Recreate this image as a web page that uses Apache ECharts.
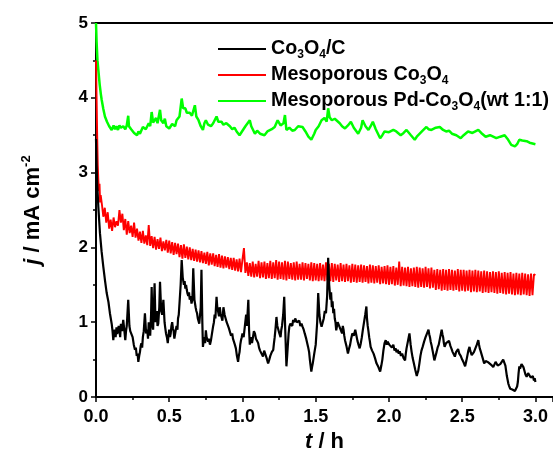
<!DOCTYPE html>
<html>
<head>
<meta charset="utf-8">
<script src="https://cdn.jsdelivr.net/npm/echarts@6/dist/echarts.min.js"></script>
<style>
  html, body { margin: 0; padding: 0; background: #fff; }
  #chart { width: 553px; height: 454px; }
</style>
</head>
<body>
<div id="chart"></div>
<script>
// legend names
const seriesNames = ['Co3O4/C', 'Mesoporous Co3O4', 'Mesoporous Pd-Co3O4(wt 1:1)']

// Co3O4/C  [t (h), j (mA cm-2)]
const co3o4C = [
  [0,3.45],[0.004,3.1],[0.008,2.85],[0.012,2.7],[0.016,2.54],[0.022,2.35],[0.027,2.19],[0.038,1.95],
  [0.05,1.74],[0.062,1.55],[0.073,1.39],[0.085,1.27],[0.095,1.12],[0.107,0.98],[0.113,0.88],[0.118,0.76],
  [0.123,0.86],[0.128,0.9],[0.134,0.8],[0.14,0.93],[0.145,0.84],[0.15,0.82],[0.155,0.95],[0.16,0.9],
  [0.165,0.8],[0.17,0.98],[0.178,0.88],[0.186,1.03],[0.193,0.9],[0.2,0.76],[0.205,0.88],[0.21,0.95],
  [0.22,1.3],[0.228,0.95],[0.234,0.88],[0.24,0.85],[0.25,0.8],[0.258,0.7],[0.266,0.63],[0.272,0.66],
  [0.278,0.55],[0.284,0.58],[0.289,0.47],[0.295,0.55],[0.3,0.6],[0.305,0.68],[0.31,0.72],[0.315,0.66],
  [0.32,0.8],[0.326,0.88],[0.334,1.12],[0.342,0.85],[0.35,0.9],[0.355,0.78],[0.36,1.0],[0.365,0.9],
  [0.37,0.82],[0.376,1.1],[0.38,1.47],[0.386,0.95],[0.39,0.9],[0.395,1.2],[0.4,1.52],[0.406,1.0],
  [0.41,1.08],[0.415,1.15],[0.42,0.95],[0.425,0.98],[0.432,1.2],[0.437,1.54],[0.445,1.15],[0.452,1.1],
  [0.46,1.3],[0.468,1.0],[0.473,0.92],[0.478,0.85],[0.484,0.8],[0.49,0.72],[0.495,0.82],[0.5,0.9],
  [0.505,0.8],[0.51,0.85],[0.515,0.95],[0.52,1.0],[0.525,0.92],[0.53,0.88],[0.535,0.78],[0.54,0.8],
  [0.545,0.9],[0.55,0.95],[0.556,0.9],[0.56,1.05],[0.565,1.1],[0.57,1.25],[0.578,1.5],[0.585,1.83],
  [0.592,1.6],[0.6,1.5],[0.605,1.55],[0.61,1.45],[0.615,1.5],[0.62,1.43],[0.625,1.38],[0.63,1.35],
  [0.635,1.4],[0.64,1.3],[0.646,1.35],[0.652,1.25],[0.658,1.3],[0.664,1.72],[0.672,1.3],[0.676,1.25],
  [0.68,1.2],[0.685,1.15],[0.69,1.12],[0.695,1.05],[0.7,1.07],[0.705,0.98],[0.71,1.0],[0.715,1.2],
  [0.72,1.7],[0.726,1.0],[0.73,0.67],[0.735,0.75],[0.74,0.8],[0.745,0.72],[0.75,0.89],[0.755,0.8],
  [0.76,0.82],[0.765,0.74],[0.77,0.78],[0.778,0.7],[0.785,0.76],[0.792,0.85],[0.8,0.95],[0.805,1.0],
  [0.81,1.1],[0.815,1.05],[0.823,1.34],[0.828,1.2],[0.833,1.15],[0.84,1.08],[0.845,1.2],[0.85,1.12],
  [0.857,1.1],[0.863,1.02],[0.87,1.2],[0.878,1.1],[0.885,1.05],[0.892,1.0],[0.9,0.98],[0.907,0.92],
  [0.915,0.9],[0.922,0.82],[0.93,0.85],[0.935,0.78],[0.94,0.8],[0.948,0.7],[0.955,0.65],[0.962,0.55],
  [0.97,0.47],[0.975,0.55],[0.98,0.6],[0.985,0.7],[0.99,0.76],[0.995,0.8],[1.0,0.85],[1.008,0.8],
  [1.016,0.94],[1.025,1.1],[1.03,0.95],[1.04,1.3],[1.045,0.9],[1.05,0.7],[1.055,0.75],[1.06,0.8],
  [1.065,0.72],[1.07,0.78],[1.078,0.88],[1.085,0.85],[1.092,0.78],[1.1,0.75],[1.107,0.72],[1.113,0.66],
  [1.12,0.62],[1.13,0.58],[1.14,0.54],[1.148,0.62],[1.155,0.6],[1.165,0.52],[1.175,0.45],[1.183,0.5],
  [1.19,0.55],[1.2,0.6],[1.21,0.63],[1.215,0.72],[1.22,0.8],[1.226,0.92],[1.232,1.07],[1.238,0.95],
  [1.245,0.9],[1.252,0.85],[1.26,0.8],[1.265,0.9],[1.27,0.95],[1.278,1.1],[1.285,1.34],[1.292,0.9],
  [1.3,0.41],[1.305,0.55],[1.31,0.7],[1.315,0.85],[1.32,0.94],[1.327,0.98],[1.335,1.0],[1.34,0.95],
  [1.346,1.03],[1.353,1.0],[1.36,1.05],[1.37,1.0],[1.38,0.98],[1.388,1.02],[1.395,0.95],[1.403,0.98],
  [1.41,0.94],[1.418,0.9],[1.425,0.85],[1.435,0.78],[1.448,0.67],[1.455,0.6],[1.46,0.5],[1.465,0.42],
  [1.47,0.34],[1.475,0.4],[1.48,0.45],[1.49,0.58],[1.5,0.7],[1.505,0.85],[1.51,1.0],[1.517,1.39],
  [1.525,1.1],[1.532,1.0],[1.54,0.94],[1.548,1.0],[1.555,1.05],[1.562,1.15],[1.57,1.12],[1.578,1.35],
  [1.585,1.86],[1.592,1.5],[1.6,1.3],[1.605,1.4],[1.61,1.2],[1.615,1.28],[1.62,1.12],[1.625,1.18],
  [1.63,1.05],[1.635,1.0],[1.64,0.89],[1.65,1.0],[1.66,0.95],[1.67,0.9],[1.68,0.85],[1.685,0.95],
  [1.69,0.9],[1.695,0.82],[1.7,0.76],[1.71,0.68],[1.72,0.58],[1.728,0.65],[1.735,0.7],[1.742,0.78],
  [1.75,0.85],[1.76,0.82],[1.77,0.9],[1.778,0.82],[1.785,0.75],[1.792,0.7],[1.8,0.65],[1.808,0.72],
  [1.815,0.8],[1.822,0.9],[1.83,1.0],[1.838,1.1],[1.846,1.21],[1.85,1.05],[1.855,0.95],[1.86,0.88],
  [1.865,0.8],[1.87,0.74],[1.875,0.67],[1.885,0.62],[1.895,0.58],[1.905,0.52],[1.915,0.45],[1.928,0.4],
  [1.94,0.34],[1.948,0.42],[1.955,0.5],[1.962,0.62],[1.97,0.72],[1.978,0.76],[1.985,0.7],[1.99,0.74],
  [1.995,0.76],[2.002,0.7],[2.01,0.72],[2.02,0.66],[2.03,0.7],[2.038,0.62],[2.045,0.65],[2.052,0.6],
  [2.06,0.63],[2.067,0.58],[2.074,0.61],[2.082,0.55],[2.09,0.58],[2.1,0.52],[2.11,0.49],[2.115,0.58],
  [2.12,0.65],[2.13,0.75],[2.14,0.85],[2.148,0.7],[2.155,0.6],[2.162,0.52],[2.17,0.45],[2.18,0.36],
  [2.19,0.28],[2.195,0.32],[2.2,0.35],[2.208,0.45],[2.215,0.55],[2.222,0.62],[2.23,0.67],[2.24,0.74],
  [2.25,0.8],[2.26,0.85],[2.27,0.9],[2.275,0.84],[2.28,0.8],[2.285,0.74],[2.29,0.7],[2.3,0.6],
  [2.31,0.49],[2.318,0.55],[2.325,0.6],[2.332,0.66],[2.34,0.7],[2.35,0.8],[2.36,0.9],[2.365,0.84],
  [2.37,0.8],[2.375,0.72],[2.38,0.67],[2.39,0.72],[2.4,0.7],[2.41,0.75],[2.42,0.68],[2.428,0.64],
  [2.435,0.6],[2.442,0.58],[2.45,0.54],[2.458,0.6],[2.465,0.6],[2.472,0.64],[2.48,0.58],[2.49,0.55],
  [2.5,0.5],[2.51,0.46],[2.52,0.41],[2.528,0.48],[2.535,0.55],[2.542,0.62],[2.55,0.67],[2.555,0.62],
  [2.56,0.6],[2.565,0.56],[2.57,0.55],[2.58,0.6],[2.59,0.65],[2.6,0.7],[2.61,0.76],[2.615,0.7],
  [2.62,0.65],[2.625,0.62],[2.63,0.6],[2.64,0.52],[2.65,0.45],[2.66,0.48],[2.67,0.5],[2.68,0.46],
  [2.69,0.48],[2.698,0.43],[2.705,0.45],[2.712,0.4],[2.72,0.41],[2.728,0.47],[2.735,0.45],[2.742,0.42],
  [2.75,0.41],[2.76,0.44],[2.77,0.45],[2.78,0.5],[2.79,0.49],[2.795,0.42],[2.8,0.35],[2.805,0.28],
  [2.81,0.23],[2.815,0.18],[2.82,0.15],[2.828,0.11],[2.835,0.09],[2.842,0.1],[2.85,0.12],[2.86,0.08],
  [2.87,0.09],[2.875,0.14],[2.88,0.2],[2.885,0.32],[2.89,0.41],[2.895,0.38],[2.9,0.4],[2.905,0.44],
  [2.91,0.45],[2.918,0.4],[2.925,0.35],[2.932,0.3],[2.94,0.27],[2.95,0.32],[2.96,0.3],[2.968,0.26],
  [2.975,0.25],[2.982,0.28],[2.99,0.22],[2.995,0.25],[3.0,0.2]
]

// Mesoporous Co3O4: noisy band, read as the swings between its upper and lower edge
const mesoCo3O4 = [
  [0,4.5],[0.004,4.0],[0.008,3.5],[0.012,3.1],[0.016,2.9],[0.02,2.75],[0.024,2.85],[0.028,2.6],[0.032,2.7],
  [0.04,2.58],[0.05,2.41],[0.06,2.53],[0.07,2.33],[0.08,2.47],[0.09,2.25],
  [0.10,2.37],[0.11,2.22],[0.12,2.40],[0.13,2.27],[0.14,2.35],[0.15,2.29],[0.16,2.50],[0.17,2.33],[0.18,2.45],[0.19,2.23],
  [0.20,2.38],[0.21,2.17],[0.22,2.35],[0.23,2.19],[0.24,2.29],[0.25,2.14],[0.26,2.33],[0.27,2.13],[0.28,2.25],[0.29,2.09],
  [0.30,2.21],[0.31,2.06],[0.32,2.22],[0.33,2.05],[0.34,2.16],[0.35,2.03],[0.36,2.30],[0.37,2.02],[0.38,2.15],[0.39,1.99],
  [0.40,2.14],[0.41,1.97],[0.42,2.11],[0.43,1.98],[0.44,2.13],[0.45,1.95],[0.46,2.08],[0.47,1.96],[0.48,2.10],[0.49,1.93],
  [0.50,2.09],[0.51,1.92],[0.52,2.07],[0.53,1.90],[0.54,2.06],[0.55,1.91],[0.56,2.05],[0.57,1.87],[0.58,2.03],[0.59,1.85],
  [0.60,2.04],[0.61,1.86],[0.62,2.01],[0.63,1.84],[0.64,2.00],[0.65,1.83],[0.66,1.98],[0.67,1.82],[0.68,1.97],[0.69,1.81],
  [0.70,1.96],[0.71,1.80],[0.72,1.95],[0.73,1.79],[0.74,1.93],[0.75,1.78],[0.76,1.94],[0.77,1.76],[0.78,1.92],[0.79,1.77],
  [0.80,1.92],[0.81,1.75],[0.82,1.90],[0.83,1.74],[0.84,1.91],[0.85,1.73],[0.86,1.89],[0.87,1.72],[0.88,1.88],[0.89,1.73],
  [0.90,1.87],[0.91,1.71],[0.92,1.86],[0.93,1.70],[0.94,1.86],[0.95,1.69],[0.96,1.84],[0.97,1.68],[0.98,1.85],[0.99,1.67],
  [1.00,1.84],[1.01,1.99],[1.02,1.66],[1.03,1.80],[1.04,1.62],[1.05,1.79],[1.06,1.61],[1.07,1.81],[1.08,1.60],[1.09,1.78],
  [1.10,1.61],[1.11,1.82],[1.12,1.59],[1.13,1.80],[1.14,1.60],[1.15,1.81],[1.16,1.58],[1.17,1.79],[1.18,1.59],[1.19,1.82],
  [1.20,1.58],[1.21,1.80],[1.22,1.59],[1.23,1.83],[1.24,1.57],[1.25,1.81],[1.26,1.58],[1.27,1.80],[1.28,1.57],[1.29,1.82],
  [1.30,1.56],[1.31,1.81],[1.32,1.58],[1.33,1.79],[1.34,1.57],[1.35,1.80],[1.36,1.56],[1.37,1.81],[1.38,1.57],[1.39,1.78],
  [1.40,1.57],[1.41,1.80],[1.42,1.56],[1.43,1.79],[1.44,1.58],[1.45,1.78],[1.46,1.56],[1.47,1.80],[1.48,1.55],[1.49,1.79],
  [1.50,1.56],[1.51,1.78],[1.52,1.55],[1.53,1.79],[1.54,1.56],[1.55,1.77],[1.56,1.55],[1.57,1.80],[1.58,1.56],[1.59,1.78],
  [1.60,1.55],[1.61,1.79],[1.62,1.54],[1.63,1.78],[1.64,1.56],[1.65,1.77],[1.66,1.54],[1.67,1.79],[1.68,1.55],[1.69,1.77],
  [1.70,1.54],[1.71,1.78],[1.72,1.55],[1.73,1.76],[1.74,1.53],[1.75,1.78],[1.76,1.54],[1.77,1.77],[1.78,1.53],[1.79,1.76],
  [1.80,1.54],[1.81,1.77],[1.82,1.53],[1.83,1.76],[1.84,1.54],[1.85,1.75],[1.86,1.52],[1.87,1.77],[1.88,1.53],[1.89,1.76],
  [1.90,1.52],[1.91,1.75],[1.92,1.53],[1.93,1.76],[1.94,1.51],[1.95,1.74],[1.96,1.52],[1.97,1.75],[1.98,1.51],[1.99,1.76],
  [2.00,1.50],[2.01,1.74],[2.02,1.51],[2.03,1.75],[2.04,1.49],[2.05,1.73],[2.06,1.50],[2.07,1.81],[2.08,1.48],[2.09,1.74],
  [2.10,1.49],[2.11,1.73],[2.12,1.48],[2.13,1.74],[2.14,1.47],[2.15,1.72],[2.16,1.48],[2.17,1.73],[2.18,1.47],[2.19,1.74],
  [2.20,1.46],[2.21,1.73],[2.22,1.47],[2.23,1.72],[2.24,1.46],[2.25,1.74],[2.26,1.47],[2.27,1.72],[2.28,1.45],[2.29,1.73],
  [2.30,1.46],[2.31,1.70],[2.32,1.43],[2.33,1.71],[2.34,1.44],[2.35,1.70],[2.36,1.42],[2.37,1.71],[2.38,1.43],[2.39,1.70],
  [2.40,1.42],[2.41,1.71],[2.42,1.43],[2.43,1.70],[2.44,1.42],[2.45,1.69],[2.46,1.43],[2.47,1.71],[2.48,1.41],[2.49,1.70],
  [2.50,1.42],[2.51,1.70],[2.52,1.41],[2.53,1.69],[2.54,1.42],[2.55,1.70],[2.56,1.40],[2.57,1.69],[2.58,1.41],[2.59,1.70],
  [2.60,1.40],[2.61,1.69],[2.62,1.41],[2.63,1.68],[2.64,1.39],[2.65,1.69],[2.66,1.40],[2.67,1.68],[2.68,1.39],[2.69,1.67],
  [2.70,1.40],[2.71,1.68],[2.72,1.39],[2.73,1.67],[2.74,1.38],[2.75,1.68],[2.76,1.39],[2.77,1.66],[2.78,1.38],[2.79,1.67],
  [2.80,1.37],[2.81,1.66],[2.82,1.38],[2.83,1.67],[2.84,1.37],[2.85,1.65],[2.86,1.36],[2.87,1.66],[2.88,1.37],[2.89,1.65],
  [2.90,1.36],[2.91,1.66],[2.92,1.37],[2.93,1.65],[2.94,1.36],[2.95,1.64],[2.96,1.35],[2.97,1.65],[2.98,1.36],[2.99,1.64],
  [3.00,1.63]
]

// Mesoporous Pd-Co3O4 (wt 1:1)
const mesoPdCo3O4 = [
  [0,5.0],[0.004,4.75],[0.01,4.5],[0.016,4.37],[0.025,4.18],[0.033,4.05],[0.039,3.97],[0.05,3.85],
  [0.061,3.75],[0.075,3.68],[0.09,3.62],[0.1,3.6],[0.107,3.57],[0.12,3.63],[0.13,3.58],[0.14,3.62],
  [0.15,3.57],[0.16,3.63],[0.17,3.6],[0.186,3.62],[0.2,3.58],[0.21,3.63],[0.22,3.76],[0.225,3.62],
  [0.24,3.58],[0.26,3.53],[0.28,3.5],[0.29,3.55],[0.3,3.52],[0.32,3.61],[0.34,3.58],[0.36,3.66],
  [0.37,3.62],[0.38,3.81],[0.39,3.67],[0.41,3.73],[0.42,3.66],[0.437,3.84],[0.445,3.7],[0.46,3.66],
  [0.47,3.72],[0.48,3.62],[0.5,3.59],[0.52,3.65],[0.54,3.62],[0.55,3.7],[0.57,3.75],[0.585,3.99],
  [0.595,3.86],[0.61,3.86],[0.62,3.8],[0.64,3.8],[0.655,3.76],[0.675,3.9],[0.685,3.75],[0.7,3.7],
  [0.715,3.62],[0.73,3.57],[0.74,3.66],[0.75,3.7],[0.765,3.64],[0.785,3.62],[0.8,3.66],[0.823,3.75],
  [0.835,3.68],[0.857,3.68],[0.87,3.64],[0.89,3.66],[0.914,3.62],[0.93,3.58],[0.945,3.6],[0.96,3.55],
  [0.98,3.5],[1.0,3.56],[1.02,3.62],[1.035,3.66],[1.05,3.7],[1.06,3.62],[1.085,3.52],[1.1,3.56],
  [1.12,3.52],[1.15,3.5],[1.17,3.55],[1.2,3.58],[1.22,3.61],[1.24,3.7],[1.26,3.63],[1.28,3.66],
  [1.29,3.77],[1.3,3.57],[1.32,3.6],[1.34,3.56],[1.357,3.57],[1.38,3.62],[1.41,3.61],[1.43,3.55],
  [1.45,3.48],[1.47,3.44],[1.49,3.52],[1.5,3.57],[1.52,3.62],[1.54,3.7],[1.56,3.73],[1.575,3.68],
  [1.585,3.86],[1.595,3.74],[1.61,3.7],[1.63,3.72],[1.664,3.66],[1.68,3.62],[1.7,3.59],[1.72,3.63],
  [1.74,3.68],[1.76,3.6],[1.79,3.52],[1.81,3.6],[1.82,3.7],[1.84,3.62],[1.86,3.57],[1.875,3.62],
  [1.89,3.68],[1.91,3.58],[1.94,3.46],[1.955,3.5],[1.97,3.55],[2.0,3.54],[2.03,3.57],[2.05,3.55],
  [2.08,3.5],[2.1,3.53],[2.12,3.57],[2.15,3.5],[2.176,3.44],[2.19,3.48],[2.21,3.52],[2.23,3.56],
  [2.256,3.61],[2.27,3.58],[2.29,3.57],[2.32,3.6],[2.347,3.61],[2.37,3.57],[2.39,3.55],[2.41,3.56],
  [2.43,3.52],[2.46,3.5],[2.49,3.46],[2.51,3.5],[2.54,3.55],[2.57,3.53],[2.61,3.57],[2.63,3.53],
  [2.66,3.48],[2.69,3.5],[2.733,3.46],[2.76,3.48],[2.79,3.5],[2.81,3.45],[2.835,3.37],[2.86,3.35],
  [2.875,3.38],[2.89,3.44],[2.91,3.43],[2.94,3.42],[2.96,3.4],[2.98,3.39],[3.0,3.38]
]

const font = '"Liberation Sans", Arial, sans-serif'

// rich text for the legend (subscripts)
const legendRich = {
  'Co3O4/C': '{b|Co}{s|3}{b|O}{s|4}{b|/C}',
  'Mesoporous Co3O4': '{b|Mesoporous Co}{s|3}{b|O}{s|4}',
  'Mesoporous Pd-Co3O4(wt 1:1)': '{b|Mesoporous Pd-Co}{s|3}{b|O}{s|4}{b|(wt 1:1)}'
}

const chart = echarts.init(document.getElementById('chart'))

chart.setOption({
  animation: false,
  backgroundColor: '#fff',
  grid: { left: 96, right: 0, top: 23, bottom: 57, outerBoundsMode: 'none' },
  legend: {
    orient: 'vertical',
    left: 213,
    top: 34,
    icon: 'rect',
    itemWidth: 48,
    itemHeight: 2,
    itemGap: 4,
    data: seriesNames,
    formatter: name => legendRich[name],
    textStyle: {
      fontFamily: font,
      rich: {
        b: { fontSize: 19.7, fontWeight: 'bold', color: '#000', fontFamily: font, lineHeight: 24 },
        s: { fontSize: 12, fontWeight: 'bold', color: '#000', fontFamily: font, lineHeight: 6, verticalAlign: 'bottom' }
      }
    }
  },
  xAxis: [
    {
      type: 'value',
      min: 0,
      max: 3.12,
      interval: 0.5,
      name: '{i|t}{b| / h}',
      nameLocation: 'middle',
      nameGap: 34,
      nameTextStyle: {
        rich: {
          i: { fontSize: 22, fontWeight: 'bold', fontStyle: 'italic', fontFamily: font, color: '#000' },
          b: { fontSize: 22, fontWeight: 'bold', fontFamily: font, color: '#000' }
        }
      },
      axisLine: { show: true, onZero: false, lineStyle: { color: '#000', width: 2 } },
      axisTick: { show: true, length: 5, lineStyle: { color: '#000', width: 1.5 } },
      minorTick: { show: true, splitNumber: 2, length: 3, lineStyle: { color: '#000', width: 1.5 } },
      splitLine: { show: false },
      axisLabel: {
        margin: 11,
        fontSize: 18,
        fontWeight: 'bold',
        fontFamily: font,
        color: '#000',
        showMaxLabel: false,
        formatter: v => v.toFixed(1)
      }
    },
    {
      type: 'value',
      position: 'top',
      min: 0,
      max: 3.12,
      axisLine: { show: true, onZero: false, lineStyle: { color: '#000', width: 2 } },
      axisTick: { show: false },
      axisLabel: { show: false },
      splitLine: { show: false }
    }
  ],
  yAxis: {
    type: 'value',
    min: 0,
    max: 5,
    interval: 1,
    name: '{i|j}{b| / mA cm}{p|-2}',
    nameLocation: 'middle',
    nameGap: 50,
    nameTextStyle: {
      rich: {
        i: { fontSize: 22, fontWeight: 'bold', fontStyle: 'italic', fontFamily: font, color: '#000', lineHeight: 26 },
        b: { fontSize: 22, fontWeight: 'bold', fontFamily: font, color: '#000', lineHeight: 26 },
        p: { fontSize: 13, fontWeight: 'bold', fontFamily: font, color: '#000', lineHeight: 12, verticalAlign: 'top' }
      }
    },
    axisLine: { show: true, lineStyle: { color: '#000', width: 2 } },
    axisTick: { show: true, length: 5, lineStyle: { color: '#000', width: 1.5 } },
    minorTick: { show: true, splitNumber: 2, length: 3, lineStyle: { color: '#000', width: 1.5 } },
    splitLine: { show: false },
    axisLabel: {
      margin: 8,
      fontSize: 17,
      fontWeight: 'bold',
      fontFamily: font,
      color: '#000'
    }
  },
  series: [
    {
      name: seriesNames[2],
      type: 'line',
      data: mesoPdCo3O4,
      symbol: 'none',
      lineStyle: { color: '#00ff00', width: 2.5 },
      itemStyle: { color: '#00ff00' }
    },
    {
      name: seriesNames[1],
      type: 'line',
      data: mesoCo3O4,
      symbol: 'none',
      lineStyle: { color: '#ff0000', width: 1.9 },
      itemStyle: { color: '#ff0000' }
    },
    {
      name: seriesNames[0],
      type: 'line',
      data: co3o4C,
      symbol: 'none',
      lineStyle: { color: '#000', width: 2.2 },
      itemStyle: { color: '#000' }
    }
  ]
})
</script>
</body>
</html>
